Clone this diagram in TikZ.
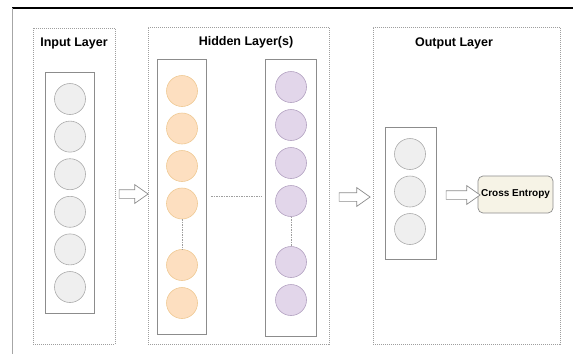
\documentclass[tikz,border=0pt]{standalone}
\usepackage{fontspec}
\setmainfont{Liberation Sans}
\usetikzlibrary{shapes.arrows}

\definecolor{dotgray}{HTML}{9E9E9E}
\definecolor{colgray}{HTML}{8C8C8C}
\definecolor{unitgray}{HTML}{ABABAB}
\definecolor{unitbg}{HTML}{EFEFEF}
\definecolor{orangeline}{HTML}{EFC994}
\definecolor{orangebg}{HTML}{FDDFC0}
\definecolor{purpleline}{HTML}{B3A2C1}
\definecolor{purplebg}{HTML}{E2D6EA}
\definecolor{lossbg}{HTML}{F6F3E6}

\begin{document}
\begin{tikzpicture}[x=1pt, y=-1pt, inner sep=0, outer sep=0,
  layerbox/.style={rectangle, draw=dotgray, dash pattern=on 1pt off 1pt, line width=0.6pt, anchor=north west},
  column/.style={rectangle, draw=colgray, line width=0.9pt, anchor=north west},
  unit/.style={circle, minimum size=31pt, line width=0.6pt},
  inunit/.style={unit, draw=unitgray, fill=unitbg},
  hidunit/.style={unit, draw=orangeline, fill=orangebg},
  deepunit/.style={unit, draw=purpleline, fill=purplebg},
  title/.style={font=\bfseries\fontsize{12.5}{14}\selectfont},
  flow/.style={single arrow, draw=colgray, fill=white, line width=0.7pt, inner sep=4pt,
    minimum width=18pt, single arrow head extend=5pt, single arrow tip angle=70},
  link/.style={draw=dotgray, dash pattern=on 1.5pt off 1pt, line width=0.7pt}]
  \useasboundingbox (0,0) rectangle (573,354);

  % frame edges
  \coordinate (topL) at (12,8);
  \coordinate (topR) at (573,8);
  \coordinate (botL) at (12,354);
  \draw[black, line width=1.3pt] (topL) -- (topR);
  \draw[gray!70, line width=0.7pt] (topL) -- (botL);

  % layer boxes
  \node[layerbox, minimum width=82pt, minimum height=316pt] (inbox) at (33,28) {};
  \node[layerbox, minimum width=181pt, minimum height=317pt] (hidbox) at (148,27) {};
  \node[layerbox, minimum width=187pt, minimum height=317pt] (outbox) at (373,27) {};

  \node[title] (intitle) at ([yshift=-15pt]inbox.north) {Input Layer};
  \node[title] (hidtitle) at ([xshift=7.5pt, yshift=-15pt]hidbox.north) {Hidden Layer(s)};
  \node[title] (outtitle) at ([xshift=-12.5pt, yshift=-16pt]outbox.north) {Output Layer};

  % input column
  \node[column, minimum width=49pt, minimum height=241pt] (incol) at (45,72) {};
  \node[inunit] (in1) at (70,99) {};
  \node[inunit] (in2) at ([yshift=-37.6pt]in1.center) {};
  \node[inunit] (in3) at ([yshift=-37.6pt]in2.center) {};
  \node[inunit] (in4) at ([yshift=-37.6pt]in3.center) {};
  \node[inunit] (in5) at ([yshift=-37.6pt]in4.center) {};
  \node[inunit] (in6) at ([yshift=-37.6pt]in5.center) {};

  % hidden columns
  \node[column, minimum width=49pt, minimum height=275pt] (hidA) at (157,59) {};
  \node[hidunit] (h1) at (182,91) {};
  \node[hidunit] (h2) at ([yshift=-37.5pt]h1.center) {};
  \node[hidunit] (h3) at ([yshift=-37.5pt]h2.center) {};
  \node[hidunit] (h4) at ([yshift=-37.5pt]h3.center) {};
  \node[hidunit] (h5) at ([yshift=-61.5pt]h4.center) {};
  \node[hidunit] (h6) at ([yshift=-38pt]h5.center) {};

  \node[column, minimum width=51pt, minimum height=277pt] (hidB) at (265,59) {};
  \node[deepunit] (p1) at (291,87) {};
  \node[deepunit] (p2) at ([yshift=-38pt]p1.center) {};
  \node[deepunit] (p3) at ([yshift=-38pt]p2.center) {};
  \node[deepunit] (p4) at ([yshift=-38pt]p3.center) {};
  \node[deepunit] (p5) at ([yshift=-61pt]p4.center) {};
  \node[deepunit] (p6) at ([yshift=-38pt]p5.center) {};

  \draw[link] (h4) -- (h5);
  \draw[link] (p4) -- (p5);
  \draw[link] ([shift={(5pt,7pt)}]hidA.east |- h4.center) -- ([shift={(-3pt,7pt)}]hidB.west |- h4.center);

  % output column
  \node[column, minimum width=51pt, minimum height=132pt] (outcol) at (385,127) {};
  \node[inunit] (o1) at (410,154) {};
  \node[inunit] (o2) at ([yshift=-37.5pt]o1.center) {};
  \node[inunit] (o3) at ([yshift=-37.5pt]o2.center) {};

  \node[rectangle, rounded corners=5pt, draw=colgray, fill=lossbg, line width=0.7pt,
    minimum width=75pt, minimum height=37pt,
    font=\bfseries\fontsize{10}{12}\selectfont] (loss) at (515.5,194.5) {Cross Entropy};

  % block arrows
  \node[flow, minimum height=29pt] (fl1) at (130.5,194) {};
  \node[flow, minimum height=31pt] (fl2) at (351.5,197) {};
  \node[flow, minimum height=34pt] (fl3) at (460,195) {};
\end{tikzpicture}
\end{document}
